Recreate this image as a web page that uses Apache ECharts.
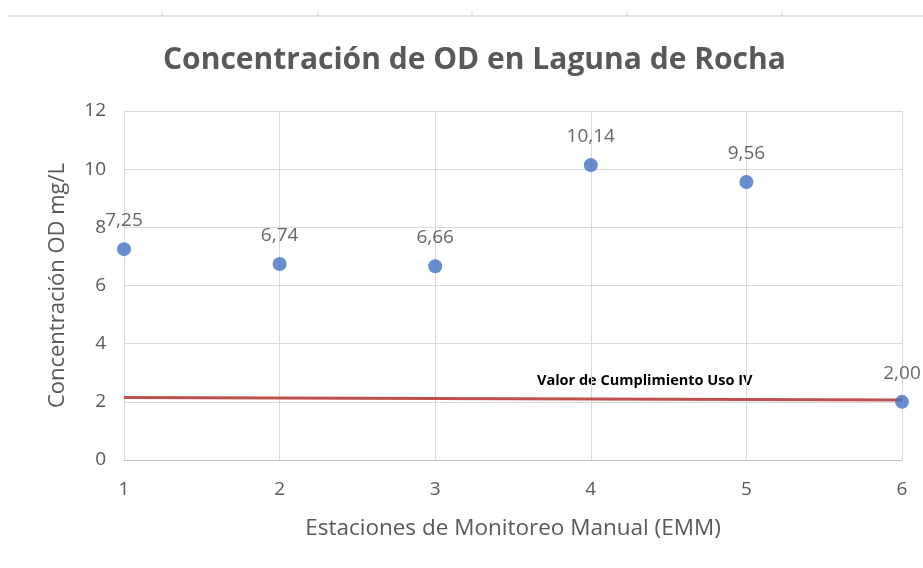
<!DOCTYPE html>
<html>
<head>
<meta charset="utf-8">
<script src="https://cdn.jsdelivr.net/npm/echarts@6/dist/echarts.min.js"></script>
<style>
  html, body { margin: 0; padding: 0; background: #fff; }
  #chart { width: 923px; height: 568px; }
</style>
</head>
<body>
<div id="chart"></div>
<script>
// estaciones y concentraciones
var estaciones = [1, 2, 3, 4, 5, 6];
var concentracion = [7.25, 6.74, 6.66, 10.14, 9.56, 2.00];
// valor de cumplimiento (línea roja, extremos)
var limiteX = [1, 6];
var limiteY = [2.15, 2.06];
var yTicks = [0, 2, 4, 6, 8, 10, 12];

var font = '"Open Sans"';
var gris = '#595959';

var puntos = estaciones.map(function(e, i) {
    return [e, concentracion[i]];
});
var linea = limiteX.map(function(x, i) {
    return [x, limiteY[i]];
});

var chart = echarts.init(document.getElementById('chart'));
var option = {
    animation: false,
    title: {
        text: 'Concentración de OD en Laguna de Rocha',
        left: 158,
        top: 40,
        textStyle: { fontFamily: font, fontSize: 30, fontWeight: 'bold', color: gris }
    },
    grid: { left: 124, right: 21, top: 111, bottom: 108 },
    xAxis: {
        type: 'value',
        min: 1, max: 6, interval: 1,
        name: 'Estaciones de Monitoreo Manual (EMM)',
        nameLocation: 'middle',
        nameGap: 57,
        nameTextStyle: { fontFamily: font, fontSize: 22.5, color: gris },
        axisLine: { show: true, lineStyle: { color: '#bfbfbf', width: 1 } },
        axisTick: { show: false },
        axisLabel: { fontFamily: font, fontSize: 19, color: gris, margin: 20 },
        splitLine: { show: true, lineStyle: { color: '#d9d9d9', width: 1 } }
    },
    yAxis: {
        type: 'value',
        min: yTicks[0], max: yTicks[yTicks.length - 1], interval: 2,
        name: 'Concentración OD mg/L',
        nameLocation: 'middle',
        nameGap: 55,
        nameTextStyle: { fontFamily: font, fontSize: 22, color: gris },
        axisLine: { show: true, lineStyle: { color: '#d9d9d9', width: 1 } },
        axisTick: { show: false },
        axisLabel: { fontFamily: font, fontSize: 19, color: gris, margin: 18 },
        splitLine: { show: true, lineStyle: { color: '#d9d9d9', width: 1 } }
    },
    series: [{
        name: 'Valor de Cumplimiento Uso IV',
        type: 'line',
        data: linea,
        symbol: 'none',
        lineStyle: { color: '#c0504d', width: 3 },
        z: 2
    }, {
        name: 'OD',
        type: 'scatter',
        data: puntos,
        symbolSize: 14,
        itemStyle: { color: '#4472c4' },
        label: {
            show: true,
            position: 'top',
            distance: 12,
            fontFamily: font,
            fontSize: 19,
            color: '#404040',
            formatter: function(p) {
                return p.value[1].toFixed(2).replace('.', ',');
            }
        },
        z: 3
    }],
    graphic: [{
        type: 'text',
        left: 537,
        top: 373,
        style: {
            text: 'Valor de Cumplimiento Uso IV',
            font: 'bold 14.5px ' + font,
            fill: '#000'
        }
    }, {
        type: 'line',
        shape: { x1: 8, y1: 16, x2: 923, y2: 16 },
        style: { stroke: '#e3e3e3', lineWidth: 2 }
    }, {
        type: 'group',
        children: [162, 318, 472, 627, 782].map(function(x) {
            return {
                type: 'line',
                shape: { x1: x, y1: 11, x2: x, y2: 16 },
                style: { stroke: '#d0d0d0', lineWidth: 1 }
            };
        })
    }]
};
chart.setOption(option);
</script>
</body>
</html>
